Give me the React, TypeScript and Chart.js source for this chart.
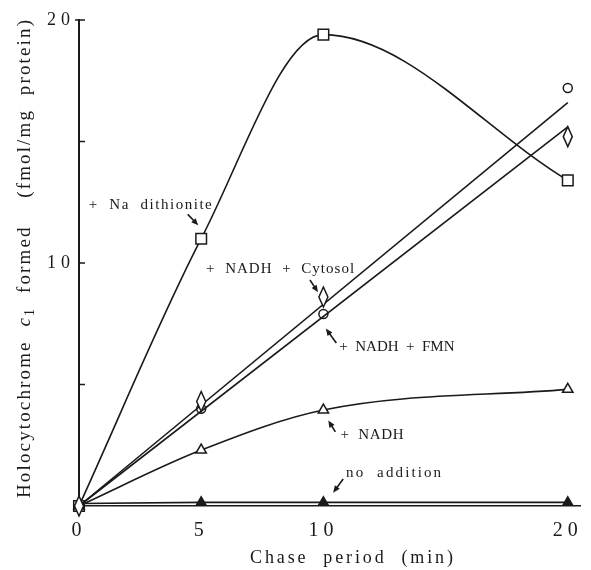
import React, { useEffect, useRef } from 'react';
import { Chart, registerables } from 'chart.js';

Chart.register(...registerables);

// ---- data ----
const chaseTimes = [0, 5, 10, 20];
const naDithionite = [0, 11.0, 19.4, 13.4];
const nadhCytosol = [0, 4.3, 8.6, 15.2];
const nadhFmn = [0, 4.0, 7.9, 17.2];
const nadhOnly = [0, 2.3, 3.95, 4.8];
const noAddition = [0.1, 0.15, 0.15, 0.15];

// fitted straight lines (drawn separately from the points)
const fitTimes = [0, 20];
const cytosolFit = [0, 15.6];
const fmnFit = [0, 16.6];

const xTickValues = [0, 5, 10, 20];
const xTickLabels = ['0', '5', '10', '20'];
const yTickValues = [0, 5, 10, 15, 20];
const yTickLabels = ['', '', '10', '', '20'];

const xTitle = 'Chase  period  (min)';
const yTitleParts = [
  { text: 'Holocytochrome  ', style: 'normal' },
  { text: 'c', style: 'italic' },
  { text: '1', style: 'sub' },
  { text: '  formed    (fmol/mg  protein)', style: 'normal' },
];

// annotation labels (data coordinates) and arrows
const labelTexts = ['+  Na  dithionite', '+  NADH  +  Cytosol', '+  NADH  +  FMN', '+  NADH', 'no  addition'];
const labelX = [0.4, 5.2, 10.65, 10.7, 10.93];
const labelY = [12.4, 9.75, 6.55, 2.9, 1.35];
const labelWidths = [123, 148, 100, 63, 95];

const arrowFromX = [4.45, 9.45, 10.53, 10.49, 10.81];
const arrowFromY = [12.0, 9.3, 6.71, 3.05, 1.11];
const arrowToX = [4.88, 9.78, 10.1, 10.2, 10.4];
const arrowToY = [11.55, 8.8, 7.3, 3.52, 0.55];

const INK = '#1a1a1a';
const SERIF = '"Liberation Serif", "DejaVu Serif", serif';
const DIAMOND_DATASET = 6;

function pts(xs: number[], ys: number[]) {
  return xs.map((x, i) => ({ x, y: ys[i] }));
}

function drawSpaced(ctx: CanvasRenderingContext2D, text: string, x: number, y: number, target: number) {
  (ctx as any).letterSpacing = '0px';
  const w = ctx.measureText(text).width;
  const ls = Math.max(0, (target - w) / Math.max(1, text.length - 1));
  (ctx as any).letterSpacing = ls + 'px';
  ctx.fillText(text, x, y);
  (ctx as any).letterSpacing = '0px';
}

const decorPlugin = {
  id: 'decor',
  beforeDraw(chart: any) {
    (chart.ctx as any).letterSpacing = '5px';
  },
  beforeDatasetsDraw(chart: any) {
    (chart.ctx as any).letterSpacing = '0px';
  },
  afterDatasetsDraw(chart: any) {
    // tall open diamonds for the "+ NADH + Cytosol" points
    const ctx: CanvasRenderingContext2D = chart.ctx;
    const meta = chart.getDatasetMeta(DIAMOND_DATASET);
    ctx.save();
    ctx.lineWidth = 1.5;
    ctx.strokeStyle = INK;
    ctx.fillStyle = '#fff';
    meta.data.forEach((el: any) => {
      const w = 4.5;
      const h = 10;
      ctx.beginPath();
      ctx.moveTo(el.x, el.y - h);
      ctx.lineTo(el.x + w, el.y);
      ctx.lineTo(el.x, el.y + h);
      ctx.lineTo(el.x - w, el.y);
      ctx.closePath();
      ctx.fill();
      ctx.stroke();
    });
    ctx.restore();
  },
  afterDraw(chart: any) {
    const ctx: CanvasRenderingContext2D = chart.ctx;
    const xs = chart.scales.x;
    const ys = chart.scales.y;
    const area = chart.chartArea;
    ctx.save();
    (ctx as any).letterSpacing = '0px';
    ctx.strokeStyle = INK;
    ctx.fillStyle = INK;
    ctx.lineWidth = 1.5;

    // inward tick marks
    ctx.beginPath();
    yTickValues.forEach((v) => {
      if (v === 0) return;
      const py = ys.getPixelForValue(v);
      ctx.moveTo(area.left - (v === 20 ? 4 : 0), py);
      ctx.lineTo(area.left + 6, py);
    });
    xTickValues.forEach((v) => {
      if (v === 0) return;
      const px = xs.getPixelForValue(v);
      ctx.moveTo(px, area.bottom);
      ctx.lineTo(px, area.bottom - 6);
    });
    ctx.stroke();

    // x title
    ctx.font = '18px ' + SERIF;
    ctx.textAlign = 'left';
    ctx.textBaseline = 'alphabetic';
    drawSpaced(ctx, xTitle, 250, 563, 203);

    // y title (rotated, with italic c and subscript 1)
    const base = 19;
    const fonts: Record<string, string> = {
      normal: `${base}px ${SERIF}`,
      italic: `italic ${base}px ${SERIF}`,
      sub: `${Math.round(base * 0.72)}px ${SERIF}`,
    };
    let natural = 0;
    let nChars = 0;
    yTitleParts.forEach((p) => {
      ctx.font = fonts[p.style];
      natural += ctx.measureText(p.text).width;
      nChars += p.text.length;
    });
    const target = 478;
    const ls = (target - natural) / (nChars - 1);
    ctx.save();
    ctx.translate(30, 498);
    ctx.rotate(-Math.PI / 2);
    let cx = 0;
    yTitleParts.forEach((p) => {
      ctx.font = fonts[p.style];
      (ctx as any).letterSpacing = ls + 'px';
      const dy = p.style === 'sub' ? 4 : 0;
      ctx.fillText(p.text, cx, dy);
      (ctx as any).letterSpacing = '0px';
      cx += ctx.measureText(p.text).width + ls * p.text.length;
    });
    ctx.restore();

    // annotation labels
    ctx.font = '15px ' + SERIF;
    ctx.textAlign = 'left';
    ctx.textBaseline = 'middle';
    labelTexts.forEach((t, i) => {
      drawSpaced(ctx, t, xs.getPixelForValue(labelX[i]), ys.getPixelForValue(labelY[i]), labelWidths[i]);
    });

    // arrows
    arrowFromX.forEach((_, i) => {
      const x1 = xs.getPixelForValue(arrowFromX[i]);
      const y1 = ys.getPixelForValue(arrowFromY[i]);
      const x2 = xs.getPixelForValue(arrowToX[i]);
      const y2 = ys.getPixelForValue(arrowToY[i]);
      const ang = Math.atan2(y2 - y1, x2 - x1);
      const hl = 7;
      const hw = 3;
      ctx.beginPath();
      ctx.moveTo(x1, y1);
      ctx.lineTo(x2 - Math.cos(ang) * hl * 0.6, y2 - Math.sin(ang) * hl * 0.6);
      ctx.lineWidth = 1.6;
      ctx.stroke();
      ctx.beginPath();
      ctx.moveTo(x2, y2);
      ctx.lineTo(x2 - Math.cos(ang) * hl - Math.sin(ang) * hw, y2 - Math.sin(ang) * hl + Math.cos(ang) * hw);
      ctx.lineTo(x2 - Math.cos(ang) * hl + Math.sin(ang) * hw, y2 - Math.sin(ang) * hl - Math.cos(ang) * hw);
      ctx.closePath();
      ctx.fill();
    });

    ctx.restore();
  },
};

export default function App() {
  const ref = useRef<HTMLCanvasElement>(null);

  useEffect(() => {
    const common = {
      borderColor: INK,
      borderWidth: 1.6,
      pointBorderColor: INK,
      pointBackgroundColor: '#fff',
      pointBorderWidth: 1.5,
      fill: false,
      clip: false as any,
    };
    const chart = new Chart(ref.current!, {
      type: 'line',
      data: {
        datasets: [
          {
            ...common,
            label: 'no addition',
            data: pts(chaseTimes, noAddition),
            tension: 0,
            pointStyle: 'triangle',
            pointRadius: 5.5,
            pointBackgroundColor: INK,
          },
          {
            ...common,
            label: '+ NADH',
            data: pts(chaseTimes, nadhOnly),
            cubicInterpolationMode: 'monotone',
            pointStyle: 'triangle',
            pointRadius: 6,
          },
          {
            ...common,
            label: 'fit NADH + Cytosol',
            data: pts(fitTimes, cytosolFit),
            tension: 0,
            pointRadius: 0,
          },
          {
            ...common,
            label: 'fit NADH + FMN',
            data: pts(fitTimes, fmnFit),
            tension: 0,
            pointRadius: 0,
          },
          {
            ...common,
            label: '+ Na dithionite',
            data: pts(chaseTimes, naDithionite),
            cubicInterpolationMode: 'monotone',
            pointStyle: 'rect',
            pointRadius: 7.5,
          },
          {
            ...common,
            label: '+ NADH + FMN',
            data: pts(chaseTimes, nadhFmn),
            showLine: false,
            pointStyle: 'circle',
            pointRadius: 4.5,
          },
          {
            ...common,
            label: '+ NADH + Cytosol',
            data: pts(chaseTimes, nadhCytosol),
            showLine: false,
            pointRadius: 0,
          },
        ],
      },
      options: {
        animation: false,
        responsive: false,
        devicePixelRatio: 1,
        layout: { padding: { top: 20, right: 1, left: 0, bottom: 0 } },
        plugins: {
          legend: { display: false },
          tooltip: { enabled: false },
          title: { display: false },
        },
        scales: {
          x: {
            type: 'linear',
            min: 0,
            max: 20.5,
            afterBuildTicks: (s: any) => {
              s.ticks = xTickValues.map((v) => ({ value: v }));
            },
            afterFit: (s: any) => {
              s.height = 64;
            },
            grid: { display: false, drawTicks: false },
            border: { display: true, color: INK, width: 1.6 },
            ticks: {
              autoSkip: false,
              maxRotation: 0,
              padding: 13,
              color: INK,
              font: { family: SERIF, size: 20 },
              callback: (v: any) => {
                const i = xTickValues.indexOf(Number(v));
                return i >= 0 ? xTickLabels[i] : '';
              },
            },
          },
          y: {
            type: 'linear',
            min: 0,
            max: 20,
            afterBuildTicks: (s: any) => {
              s.ticks = yTickValues.map((v) => ({ value: v }));
            },
            afterFit: (s: any) => {
              s.width = 79;
            },
            grid: { display: false, drawTicks: false },
            border: { display: true, color: INK, width: 2 },
            ticks: {
              autoSkip: false,
              padding: 4,
              color: INK,
              font: { family: SERIF, size: 18 },
              callback: (v: any) => {
                const i = yTickValues.indexOf(Number(v));
                return i >= 0 ? yTickLabels[i] : '';
              },
            },
          },
        },
      },
      plugins: [decorPlugin as any],
    });
    return () => chart.destroy();
  }, []);

  return (
    <div style={{ position: 'fixed', left: 0, top: 0, width: 591, height: 570, background: '#fff' }}>
      <canvas ref={ref} width={591} height={570} style={{ display: 'block', width: 591, height: 570 }} />
    </div>
  );
}
